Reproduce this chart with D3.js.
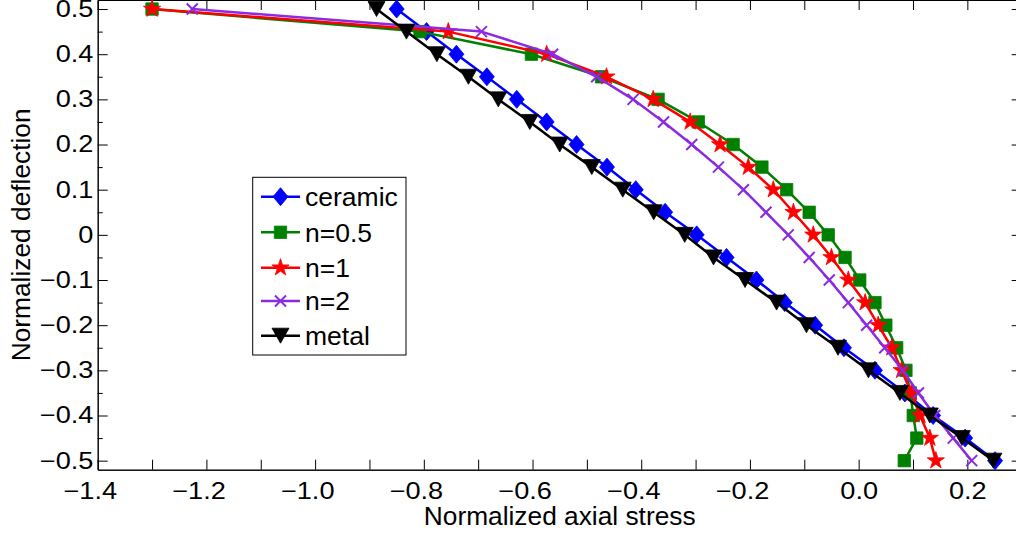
<!DOCTYPE html>
<html><head><meta charset="utf-8">
<script src="https://cdn.jsdelivr.net/npm/d3@7"></script>
<style>
html,body{margin:0;padding:0;background:#fff;}
svg{display:block;font-family:"Liberation Sans",Arial,Helvetica,sans-serif;}
</style></head><body>
<svg id="chart" width="1016" height="533"></svg>
<script>
// ---- data ----
const deflection = [0.5,0.45,0.4,0.35,0.3,0.25,0.2,0.15,0.1,0.05,0,-0.05,-0.1,-0.15,-0.2,-0.25,-0.3,-0.35,-0.4,-0.45,-0.5];
const ceramic = [-0.850,-0.795,-0.740,-0.684,-0.629,-0.574,-0.519,-0.463,-0.410,-0.356,-0.298,-0.243,-0.188,-0.136,-0.080,-0.027,0.030,0.085,0.137,0.196,0.251];
const n05 = [-1.300,-0.807,-0.602,-0.473,-0.369,-0.295,-0.231,-0.178,-0.1325,-0.091,-0.056,-0.025,0.002,0.030,0.050,0.070,0.087,0.095,0.1005,0.107,0.084];
const n1 = [-1.300,-0.755,-0.574,-0.464,-0.378,-0.310,-0.255,-0.203,-0.157,-0.120,-0.0835,-0.050,-0.019,0.012,0.036,0.061,0.079,0.097,0.113,0.131,0.142];
const n2 = [-1.226,-0.694,-0.563,-0.482,-0.415,-0.359,-0.307,-0.258,-0.212,-0.1705,-0.1295,-0.091,-0.054,-0.019,0.0147,0.048,0.081,0.110,0.140,0.174,0.208];
const metal = [-0.887,-0.832,-0.776,-0.718,-0.663,-0.605,-0.550,-0.491,-0.434,-0.377,-0.320,-0.267,-0.209,-0.151,-0.096,-0.038,0.018,0.076,0.131,0.190,0.248];
const seriesNames = ["ceramic","n=0.5","n=1","n=2","metal"];

const xMajor = [-1.4,-1.2,-1.0,-0.8,-0.6,-0.4,-0.2,0.0,0.2];
const xMajorLabels = ["\u22121.4","\u22121.2","\u22121.0","\u22120.8","\u22120.6","\u22120.4","\u22120.2","0.0","0.2"];
const xMinor = [-1.3,-1.1,-0.9,-0.7,-0.5,-0.3,-0.1,0.1];
const yMajor = [-0.5,-0.4,-0.3,-0.2,-0.1,0,0.1,0.2,0.3,0.4,0.5];
const yMajorLabels = ["\u22120.5","\u22120.4","\u22120.3","\u22120.2","\u22120.1","0","0.1","0.2","0.3","0.4","0.5"];
const yMinor = [-0.45,-0.35,-0.25,-0.15,-0.05,0.05,0.15,0.25,0.35,0.45];

// ---- styling ----
const colors = ["#0000ff","#008000","#ff0000","#8a2be2","#000000"];
const markerType = ["diamond","square","star","x","tri"];

const svg = d3.select("#chart");
const L = 97.7, R = 1021.7, T = 0, B = 469.7;
const x = d3.scaleLinear().domain([-1.4, 0.3]).range([L, R]);
const y = d3.scaleLinear().domain([-0.52, 0.52]).range([B, T]);

const TF = 23, SX = 1.18;

function styleAxis(g){
  g.selectAll("path.domain").attr("stroke","#000").attr("stroke-width",1);
  g.selectAll(".tick line").attr("stroke","#000").attr("stroke-width",1);
  g.selectAll("text").attr("fill","#000").attr("font-size",TF).attr("font-family","Liberation Sans, Arial, sans-serif");
}
const gB = svg.append("g").attr("transform",`translate(0,${B})`)
  .call(d3.axisBottom(x).tickValues(xMajor).tickSizeInner(-10).tickSizeOuter(0).tickPadding(13)
    .tickFormat((d,i)=>xMajorLabels[i]));
styleAxis(gB);
// MATLAB centres the digits, the minus sign hangs to the left
gB.selectAll("text").attr("transform",`scale(${SX},1)`)
  .attr("x",(d,i)=> xMajorLabels[i].startsWith("\u2212") ? -6.7 : 0);
const gB2 = svg.append("g").attr("transform",`translate(0,${B})`)
  .call(d3.axisBottom(x).tickValues(xMinor).tickSizeInner(-10).tickSizeOuter(0).tickFormat(""));
styleAxis(gB2);

const gT = svg.append("g").attr("transform",`translate(0,${T})`)
  .call(d3.axisTop(x).tickValues(xMajor.concat(xMinor)).tickSizeInner(-10).tickSizeOuter(0).tickFormat(""));
styleAxis(gT);

const gL = svg.append("g").attr("transform",`translate(${L},0)`)
  .call(d3.axisLeft(y).tickValues(yMajor).tickSizeInner(-10).tickSizeOuter(0).tickPadding(3.7)
    .tickFormat((d,i)=>yMajorLabels[i]));
styleAxis(gL);
gL.selectAll("text").attr("transform",`scale(${SX},1)`);
const gL2 = svg.append("g").attr("transform",`translate(${L},0)`)
  .call(d3.axisLeft(y).tickValues(yMinor).tickSizeInner(-5).tickSizeOuter(0).tickFormat(""));
styleAxis(gL2);

const gR = svg.append("g").attr("transform",`translate(${R},0)`)
  .call(d3.axisRight(y).tickValues(yMajor).tickSizeInner(-10).tickSizeOuter(0).tickFormat(""));
styleAxis(gR);
const gR2 = svg.append("g").attr("transform",`translate(${R},0)`)
  .call(d3.axisRight(y).tickValues(yMinor).tickSizeInner(-5).tickSizeOuter(0).tickFormat(""));
styleAxis(gR2);

// markers
function markerPath(type){
  switch(type){
    case "diamond": return "M0,-9L7.5,0L0,9L-7.5,0Z";
    case "square": return "M-6.2,-6.2H6.2V6.2H-6.2Z";
    case "star": return d3.symbol(d3.symbolStar, 92)();
    case "x": return "M-5.5,-5.5L5.5,5.5M5.5,-5.5L-5.5,5.5";
    case "tri": return "M-8.5,-7.5L8.5,-7.5L0,7.5Z";
  }
}
function drawMarker(g, type, color, cx, cy){
  const p = g.append("path").attr("d", markerPath(type)).attr("transform",`translate(${cx},${cy})`);
  if(type==="x") p.attr("fill","none").attr("stroke",color).attr("stroke-width",2);
  else p.attr("fill",color).attr("stroke",color).attr("stroke-width",0.8);
}

const seriesValues = [ceramic, n05, n1, n2, metal];
const line = d3.line().x(d=>x(d[0])).y(d=>y(d[1]));
const plot = svg.append("g");
seriesValues.forEach((vals, si)=>{
  const pts = vals.map((v,i)=>[v, deflection[i]]);
  const g = plot.append("g");
  g.append("path").attr("d", line(pts)).attr("fill","none")
    .attr("stroke", colors[si]).attr("stroke-width",2.5).attr("stroke-linejoin","round");
  pts.forEach(p=>drawMarker(g, markerType[si], colors[si], x(p[0]), y(p[1])));
});

// legend
const leg = svg.append("g");
leg.append("rect").attr("x",252.7).attr("y",177.3).attr("width",153.3).attr("height",177.7)
  .attr("fill","#fff").attr("stroke","#000").attr("stroke-width",1);
const legY = [196.7, 232.3, 267.7, 301, 335.7];
seriesNames.forEach((name, si)=>{
  const ly = legY[si];
  leg.append("line").attr("x1",261).attr("x2",300).attr("y1",ly).attr("y2",ly)
    .attr("stroke",colors[si]).attr("stroke-width",2.5);
  drawMarker(leg, markerType[si], colors[si], 280.5, ly);
  leg.append("text").attr("x",305).attr("y",ly).attr("dy","0.35em")
    .attr("font-size",26.5).attr("fill","#000").text(name);
});

// axis labels
svg.append("text").attr("x",(L+R)/2).attr("y",525).attr("text-anchor","middle")
  .attr("font-size",26.3).attr("fill","#000").text("Normalized axial stress");
svg.append("text").attr("transform",`translate(29.5,${(T+B)/2}) rotate(-90)`).attr("text-anchor","middle")
  .attr("font-size",26.3).attr("fill","#000").text("Normalized deflection");
</script>
</body></html>
